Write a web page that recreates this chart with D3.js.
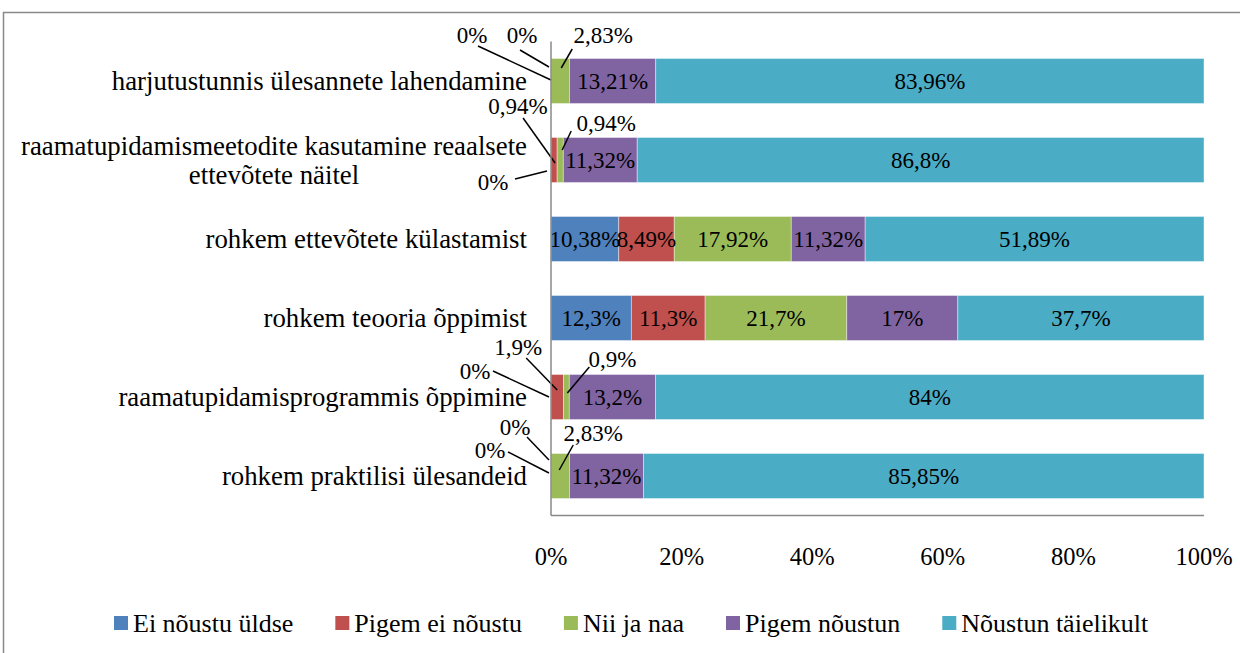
<!DOCTYPE html>
<html>
<head>
<meta charset="utf-8">
<script src="https://cdn.jsdelivr.net/npm/d3@7"></script>
</head>
<body style="margin:0">
<svg id="chart" width="1240" height="653"></svg>
<script>
/* 100% stacked horizontal bars: agreement with course suggestions */
var categories = [
  ['harjutustunnis ülesannete lahendamine'],
  ['raamatupidamismeetodite kasutamine reaalsete', 'ettevõtete näitel'],
  ['rohkem ettevõtete külastamist'],
  ['rohkem teooria õppimist'],
  ['raamatupidamisprogrammis õppimine'],
  ['rohkem praktilisi ülesandeid']
];
var seriesNames = ['Ei nõustu üldse', 'Pigem ei nõustu', 'Nii ja naa', 'Pigem nõustun', 'Nõustun täielikult'];
var seriesColors = ['#4F81BD', '#C0504D', '#9BBB59', '#8064A2', '#4BACC6'];

var eiNoustu     = [0, 0, 10.38, 12.3, 0, 0];
var pigemEi      = [0, 0.94, 8.49, 11.3, 1.9, 0];
var niiJaNaa     = [2.83, 0.94, 17.92, 21.7, 0.9, 2.83];
var pigemNoustun = [13.21, 11.32, 11.32, 17, 13.2, 11.32];
var taielikult   = [83.96, 86.8, 51.89, 37.7, 84, 85.85];
var seriesValues = [eiNoustu, pigemEi, niiJaNaa, pigemNoustun, taielikult];

var xTicks = [0, 20, 40, 60, 80, 100];

/* callouts for thin segments: [row, series, label dx,dy, leader start dx,dy, leader end dx,dy]
   offsets relative to the segment centre */
var callouts = [
  [0, 0, -79, -46, -73, -35, 0, -1],
  [0, 1, -29, -46, -31, -31, -2, -14],
  [0, 2, 43, -46, 12, -32, 1, -13],
  [1, 1, -36, -54, -31, -42, 1, 3],
  [1, 0, -58, 22, -36, 19, -4, 11],
  [1, 2, 46, -37, 11, -29, 2, -10],
  [4, 1, -39, -50, -31, -39, 0, -7],
  [4, 0, -76, -26, -58, -26, -2, 0],
  [4, 2, 46, -38, 23, -30, 1, -4],
  [5, 0, -61, -26, -43, -24, -2, -3],
  [5, 1, -36, -49, -24, -39, -2, -16],
  [5, 2, 33, -43, 13, -31, -1, -6]
];

(function () {
  'use strict';
  var svg = d3.select('#chart');
  var axisColor = '#898989';
  var fmt = function (v) { return String(v).replace('.', ',') + '%'; };
  function txt(sel, size) {
    return sel.append('text')
      .attr('font-family', 'Liberation Serif')
      .style('font-family', '"Liberation Serif"')
      .style('font-size', size + 'px').style('fill', '#000');
  }

  /* outer frame */
  svg.append('rect')
    .attr('x', 3.5).attr('y', 12.5).attr('width', 1260).attr('height', 700)
    .attr('fill', 'none').attr('stroke', axisColor).attr('stroke-width', 1.5);

  var x = d3.scaleLinear().domain([0, 100]).range([551, 1204]);
  var y = d3.scaleBand().domain(d3.range(categories.length))
    .range([41.5, 515.5]).paddingInner(0.43).paddingOuter(0.215);

  /* stacked segments */
  var segs = [];
  categories.forEach(function (c, i) {
    var acc = 0;
    seriesValues.forEach(function (vals, s) {
      segs.push({ row: i, s: s, v: vals[i], x0: acc, x1: acc + vals[i] });
      acc += vals[i];
    });
  });

  var g = svg.append('g');
  g.selectAll('rect.seg').data(segs.filter(function (d) { return d.v > 0; }))
    .enter().append('rect').attr('class', 'seg')
    .attr('x', function (d) { return x(d.x0); })
    .attr('width', function (d) { return x(d.x1) - x(d.x0); })
    .attr('y', function (d) { return y(d.row); })
    .attr('height', y.bandwidth())
    .attr('fill', function (d) { return seriesColors[d.s]; })
    .attr('stroke', 'rgba(255,255,255,0.55)').attr('stroke-width', 0.75);

  /* inside labels */
  segs.filter(function (d) { return d.v >= 5; }).forEach(function (d) {
    txt(g, 23)
      .attr('x', x((d.x0 + d.x1) / 2))
      .attr('y', y(d.row) + y.bandwidth() / 2)
      .attr('dy', '0.35em').attr('text-anchor', 'middle')
      .text(fmt(d.v));
  });

  /* callout labels with leader lines */
  callouts.forEach(function (c) {
    var d = segs.filter(function (s) { return s.row === c[0] && s.s === c[1]; })[0];
    var ax = x((d.x0 + d.x1) / 2);
    var ay = y(d.row) + y.bandwidth() / 2;
    g.append('line')
      .attr('x1', ax + c[4]).attr('y1', ay + c[5])
      .attr('x2', ax + c[6]).attr('y2', ay + c[7])
      .attr('stroke', '#000').attr('stroke-width', 1.5);
    txt(g, 23)
      .attr('x', ax + c[2]).attr('y', ay + c[3])
      .attr('dy', '0.35em').attr('text-anchor', 'middle')
      .text(fmt(d.v));
  });

  /* axes lines */
  svg.append('line')
    .attr('x1', x(0)).attr('x2', x(0)).attr('y1', 41.5).attr('y2', 515.5)
    .attr('stroke', axisColor).attr('stroke-width', 1.5);
  svg.append('line')
    .attr('x1', x(0)).attr('x2', x(100)).attr('y1', 515.5).attr('y2', 515.5)
    .attr('stroke', axisColor).attr('stroke-width', 1.5);

  /* x tick labels */
  xTicks.forEach(function (d) {
    txt(svg, 24.5)
      .attr('x', x(d)).attr('y', 556).attr('dy', '0.35em')
      .attr('text-anchor', 'middle')
      .text(d + '%');
  });

  /* category labels (multi-line centred on each other, right-aligned block) */
  var labelRight = x(0) - 24;
  var lineH = 29;
  categories.forEach(function (lines, i) {
    var texts = lines.map(function (l) { return txt(svg, 26.8).text(l); });
    var maxW = d3.max(texts, function (n) { return n.node().getComputedTextLength(); });
    var cy = y(i) + y.bandwidth() / 2;
    texts.forEach(function (n, k) {
      n.attr('text-anchor', 'middle')
        .attr('x', labelRight - maxW / 2)
        .attr('y', cy + (k - (lines.length - 1) / 2) * lineH)
        .attr('dy', '0.35em');
    });
  });

  /* legend */
  var lx = 114, ly = 623;
  seriesNames.forEach(function (name, s) {
    svg.append('rect')
      .attr('x', lx).attr('y', ly - 7).attr('width', 14).attr('height', 14)
      .attr('fill', seriesColors[s]);
    var t = txt(svg, 26)
      .attr('x', lx + 19).attr('y', ly).attr('dy', '0.35em')
      .text(name);
    lx += 19 + t.node().getComputedTextLength() + 42;
  });
})();
</script>
</body>
</html>
